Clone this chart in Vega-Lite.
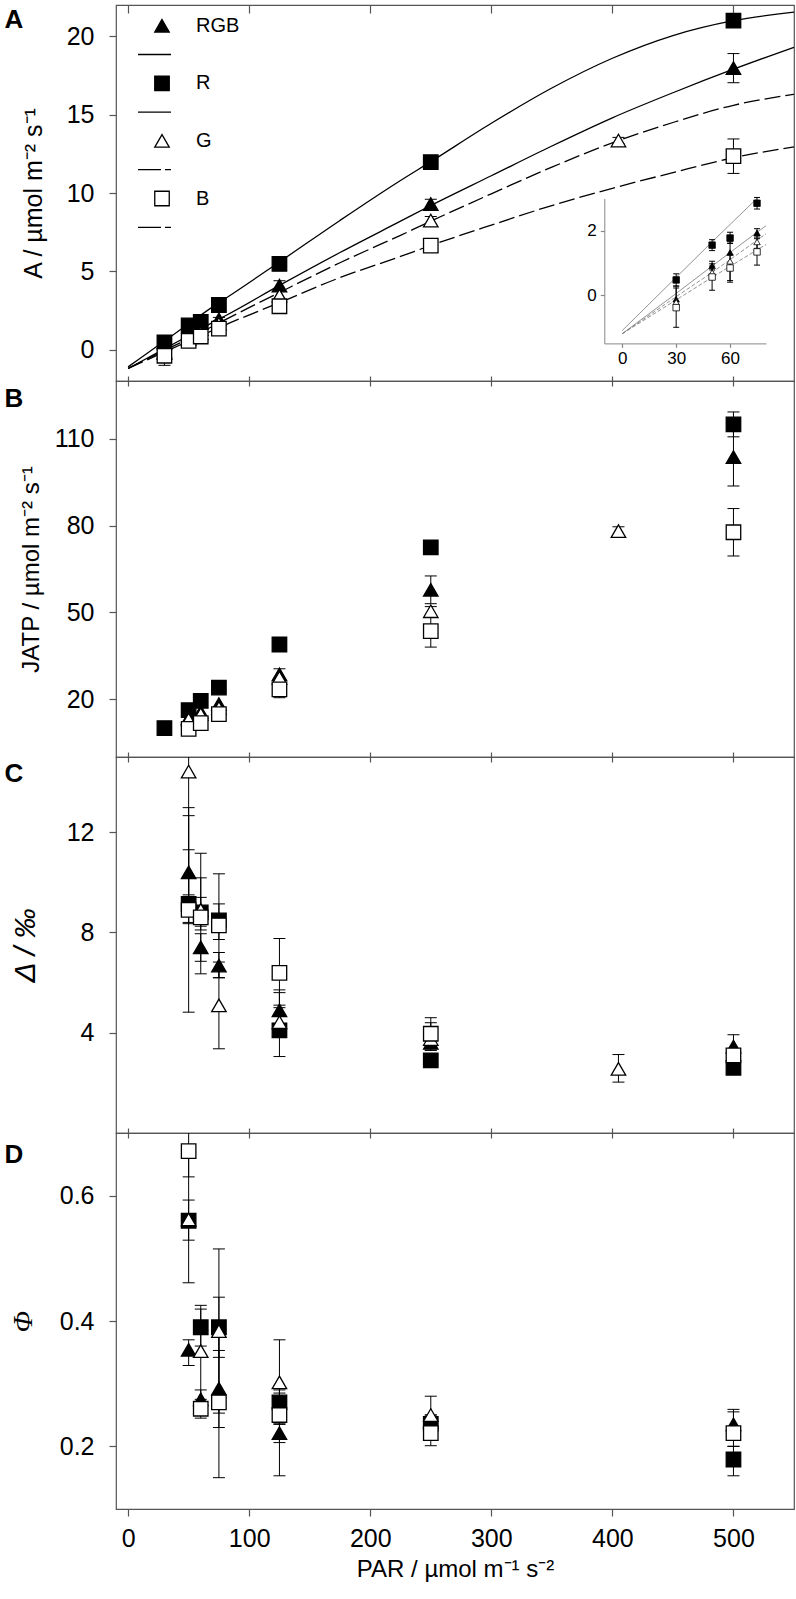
{
"$schema": "https://vega.github.io/schema/vega-lite/v6.json",
"padding": {"left": 3, "top": 3, "right": 0, "bottom": 0},
"background": "white",
"spacing": 0,
"bounds": "flush",
"config": {
  "view": {"stroke": "#555", "strokeWidth": 1.2},
  "axis": {"labelFont": "Liberation Sans", "titleFont": "Liberation Sans", "labelColor": "black", "titleColor": "black", "tickColor": "#555", "tickWidth": 1.2, "grid": false}
},
"resolve": {"scale": {"shape": "independent", "fill": "independent", "stroke": "independent"}, "legend": {"shape": "independent", "fill": "independent", "stroke": "independent"}},
"datasets": {
  "curves": [
    {"group":"R","PAR":0,"v":-1.1},{"group":"R","PAR":30,"v":0.55},{"group":"R","PAR":50,"v":1.65},{"group":"R","PAR":75,"v":3.0},{"group":"R","PAR":80,"v":3.25},{"group":"R","PAR":125,"v":5.6},{"group":"R","PAR":175,"v":8.25},{"group":"R","PAR":225,"v":10.8},{"group":"R","PAR":250,"v":12.0},{"group":"R","PAR":300,"v":14.45},{"group":"R","PAR":350,"v":16.7},{"group":"R","PAR":400,"v":18.6},{"group":"R","PAR":450,"v":20.05},{"group":"R","PAR":500,"v":21.0},{"group":"R","PAR":550,"v":21.55},
    {"group":"RGB","PAR":0,"v":-1.2},{"group":"RGB","PAR":30,"v":0.05},{"group":"RGB","PAR":50,"v":0.9},{"group":"RGB","PAR":75,"v":1.95},{"group":"RGB","PAR":80,"v":2.15},{"group":"RGB","PAR":125,"v":4.1},{"group":"RGB","PAR":175,"v":6.2},{"group":"RGB","PAR":225,"v":8.2},{"group":"RGB","PAR":250,"v":9.2},{"group":"RGB","PAR":300,"v":11.1},{"group":"RGB","PAR":350,"v":13.0},{"group":"RGB","PAR":400,"v":14.8},{"group":"RGB","PAR":450,"v":16.4},{"group":"RGB","PAR":500,"v":17.9},{"group":"RGB","PAR":550,"v":19.3},
    {"group":"G","PAR":0,"v":-1.2},{"group":"G","PAR":30,"v":-0.05},{"group":"G","PAR":50,"v":0.7},{"group":"G","PAR":75,"v":1.7},{"group":"G","PAR":80,"v":1.9},{"group":"G","PAR":125,"v":3.65},{"group":"G","PAR":175,"v":5.55},{"group":"G","PAR":225,"v":7.3},{"group":"G","PAR":250,"v":8.2},{"group":"G","PAR":300,"v":9.95},{"group":"G","PAR":350,"v":11.65},{"group":"G","PAR":405,"v":13.35},{"group":"G","PAR":450,"v":14.5},{"group":"G","PAR":500,"v":15.6},{"group":"G","PAR":550,"v":16.3},
    {"group":"B","PAR":0,"v":-1.2},{"group":"B","PAR":30,"v":-0.15},{"group":"B","PAR":50,"v":0.55},{"group":"B","PAR":75,"v":1.4},{"group":"B","PAR":80,"v":1.57},{"group":"B","PAR":125,"v":3.0},{"group":"B","PAR":175,"v":4.6},{"group":"B","PAR":225,"v":5.95},{"group":"B","PAR":250,"v":6.65},{"group":"B","PAR":300,"v":7.95},{"group":"B","PAR":350,"v":9.2},{"group":"B","PAR":400,"v":10.3},{"group":"B","PAR":450,"v":11.3},{"group":"B","PAR":500,"v":12.25},{"group":"B","PAR":550,"v":12.95}
  ],
  "A": [
    {"group":"R","PAR":30,"v":0.47,"lo":0.28,"hi":0.66},{"group":"R","PAR":50,"v":1.55,"lo":1.38,"hi":1.72},{"group":"R","PAR":60,"v":1.77,"lo":1.6,"hi":1.95},{"group":"R","PAR":75,"v":2.85,"lo":2.67,"hi":3.03},{"group":"R","PAR":125,"v":5.47},{"group":"R","PAR":250,"v":11.97},{"group":"R","PAR":500,"v":21.0},
    {"group":"RGB","PAR":30,"v":-0.13,"lo":-0.35,"hi":0.28},{"group":"RGB","PAR":50,"v":0.91,"lo":0.78,"hi":1.05},{"group":"RGB","PAR":60,"v":1.32,"lo":0.45,"hi":1.65},{"group":"RGB","PAR":75,"v":1.93,"lo":1.8,"hi":2.06},{"group":"RGB","PAR":125,"v":4.09,"lo":3.8,"hi":4.4},{"group":"RGB","PAR":250,"v":9.3,"lo":9.0,"hi":9.6},{"group":"RGB","PAR":500,"v":17.97,"lo":17.04,"hi":18.9},
    {"group":"G","PAR":30,"v":-0.22},{"group":"G","PAR":50,"v":0.7,"lo":0.5,"hi":0.9},{"group":"G","PAR":60,"v":1.05},{"group":"G","PAR":75,"v":1.65,"lo":1.45,"hi":1.85},{"group":"G","PAR":125,"v":3.45},{"group":"G","PAR":250,"v":8.24,"lo":8.0,"hi":8.5},{"group":"G","PAR":405,"v":13.35,"lo":13.15,"hi":13.55},
    {"group":"B","PAR":30,"v":-0.39,"lo":-1.0,"hi":0.22},{"group":"B","PAR":50,"v":0.56,"lo":0.15,"hi":0.97},{"group":"B","PAR":60,"v":0.84,"lo":0.4,"hi":1.25},{"group":"B","PAR":75,"v":1.34,"lo":0.93,"hi":1.75},{"group":"B","PAR":125,"v":2.77,"lo":2.55,"hi":3.0},{"group":"B","PAR":250,"v":6.64,"lo":6.3,"hi":7.0},{"group":"B","PAR":500,"v":12.35,"lo":11.25,"hi":13.45}
  ],
  "B": [
    {"group":"R","PAR":30,"v":10},{"group":"R","PAR":50,"v":16.2},{"group":"R","PAR":60,"v":19.4},{"group":"R","PAR":75,"v":24},{"group":"R","PAR":125,"v":38.9},{"group":"R","PAR":250,"v":72.5},{"group":"R","PAR":500,"v":115,"lo":110.7,"hi":119.3},
    {"group":"RGB","PAR":50,"v":13.5},{"group":"RGB","PAR":60,"v":15.6},{"group":"RGB","PAR":75,"v":18.3},{"group":"RGB","PAR":125,"v":28.6,"lo":27,"hi":30.5},{"group":"RGB","PAR":250,"v":57.8,"lo":53,"hi":62.6},{"group":"RGB","PAR":500,"v":103.7,"lo":93.7,"hi":113.7},
    {"group":"G","PAR":50,"v":13},{"group":"G","PAR":60,"v":14.8},{"group":"G","PAR":75,"v":17},{"group":"G","PAR":125,"v":27.4},{"group":"G","PAR":250,"v":50.4,"lo":48.5,"hi":52},{"group":"G","PAR":405,"v":78.1,"lo":76.5,"hi":79.6},
    {"group":"B","PAR":50,"v":9.7},{"group":"B","PAR":60,"v":11.7},{"group":"B","PAR":75,"v":14.8},{"group":"B","PAR":125,"v":23.4,"lo":20.5,"hi":26},{"group":"B","PAR":250,"v":43.5,"lo":38,"hi":49},{"group":"B","PAR":500,"v":77.7,"lo":69.5,"hi":85.9}
  ],
  "C": [
    {"group":"R","PAR":50,"v":9.14,"lo":8.4,"hi":12.98},{"group":"R","PAR":60,"v":8.8,"lo":8.1,"hi":9.4},{"group":"R","PAR":75,"v":8.48,"lo":7.72,"hi":9.14},{"group":"R","PAR":125,"v":4.09,"lo":3.05,"hi":5.1},{"group":"R","PAR":250,"v":2.9,"lo":2.7,"hi":3.1},{"group":"R","PAR":500,"v":2.6,"lo":2.4,"hi":2.8},
    {"group":"RGB","PAR":50,"v":10.4,"lo":9.5,"hi":11.3},{"group":"RGB","PAR":60,"v":7.41,"lo":6.85,"hi":7.95},{"group":"RGB","PAR":75,"v":6.68,"lo":6.2,"hi":7.2},{"group":"RGB","PAR":125,"v":4.89,"lo":4.2,"hi":5.71},{"group":"RGB","PAR":250,"v":3.6,"lo":3.3,"hi":3.9},{"group":"RGB","PAR":500,"v":3.45,"lo":3.0,"hi":3.92},
    {"group":"G","PAR":50,"v":14.42,"lo":4.82,"hi":24},{"group":"G","PAR":60,"v":8.9,"lo":8.25,"hi":10.18},{"group":"G","PAR":75,"v":5.09,"lo":3.36,"hi":6.82},{"group":"G","PAR":125,"v":4.42,"lo":3.9,"hi":5.6},{"group":"G","PAR":250,"v":3.75,"lo":3.3,"hi":4.4},{"group":"G","PAR":405,"v":2.56,"lo":2.03,"hi":3.13},
    {"group":"B","PAR":50,"v":8.9,"lo":8.35,"hi":12.66},{"group":"B","PAR":60,"v":8.6,"lo":6.35,"hi":11.16},{"group":"B","PAR":75,"v":8.28,"lo":6.19,"hi":10.34},{"group":"B","PAR":125,"v":6.39,"lo":5.0,"hi":7.76},{"group":"B","PAR":250,"v":3.96,"lo":3.4,"hi":4.6},{"group":"B","PAR":500,"v":3.1,"lo":2.9,"hi":3.3}
  ],
  "D": [
    {"group":"R","PAR":50,"v":0.56,"lo":0.529,"hi":0.593},{"group":"R","PAR":60,"v":0.39,"lo":0.36,"hi":0.425},{"group":"R","PAR":75,"v":0.39,"lo":0.342,"hi":0.438},{"group":"R","PAR":125,"v":0.27,"lo":0.255,"hi":0.285},{"group":"R","PAR":250,"v":0.236,"lo":0.225,"hi":0.25},{"group":"R","PAR":500,"v":0.179,"lo":0.153,"hi":0.2},
    {"group":"RGB","PAR":50,"v":0.354,"lo":0.329,"hi":0.37},{"group":"RGB","PAR":60,"v":0.275,"lo":0.26,"hi":0.29},{"group":"RGB","PAR":75,"v":0.292,"lo":0.23,"hi":0.353},{"group":"RGB","PAR":125,"v":0.221,"lo":0.206,"hi":0.236},{"group":"RGB","PAR":250,"v":0.24,"lo":0.23,"hi":0.25},{"group":"RGB","PAR":500,"v":0.235,"lo":0.21,"hi":0.259},
    {"group":"G","PAR":50,"v":0.562,"lo":0.461,"hi":0.66},{"group":"G","PAR":60,"v":0.352,"lo":0.27,"hi":0.419},{"group":"G","PAR":75,"v":0.384,"lo":0.253,"hi":0.515},{"group":"G","PAR":125,"v":0.302,"lo":0.235,"hi":0.37},{"group":"G","PAR":250,"v":0.25,"lo":0.22,"hi":0.28},
    {"group":"B","PAR":50,"v":0.671,"lo":0.63,"hi":0.71},{"group":"B","PAR":60,"v":0.26,"lo":0.245,"hi":0.275},{"group":"B","PAR":75,"v":0.27,"lo":0.15,"hi":0.39},{"group":"B","PAR":125,"v":0.25,"lo":0.153,"hi":0.29},{"group":"B","PAR":250,"v":0.221,"lo":0.201,"hi":0.24},{"group":"B","PAR":500,"v":0.221,"lo":0.2,"hi":0.255}
  ]
},
"vconcat": [
{
  "width": 678, "height": 376,
  "resolve": {"scale": {"x": "independent", "y": "independent"}, "axis": {"x": "independent", "y": "independent"}},
  "layer": [
    {"layer": [
      {"data": {"name": "curves"}, "transform": [{"filter": "datum.group == 'R' || datum.group == 'RGB'"}],
       "mark": {"type": "line", "color": "black", "strokeWidth": 1.3, "interpolate": "monotone"},
       "encoding": {
         "x": {"field": "PAR", "type": "quantitative", "scale": {"domain": [-10, 550], "nice": false, "zero": false}, "axis": {"orient": "bottom", "values": [0,100,200,300,400,500], "labels": false, "title": null, "domain": false, "tickSize": 10, "offset": -5}},
         "y": {"field": "v", "type": "quantitative", "scale": {"domain": [-2, 22], "nice": false, "zero": false}, "axis": {"orient": "left", "values": [0,5,10,15,20], "domain": false, "tickSize": 7, "labelPadding": 15, "labelFontSize": 25, "title": "A / µmol m⁻² s⁻¹", "titleFontSize": 25, "titleFontWeight": "normal", "titleBaseline": "alphabetic", "titleX": -75, "titleY": 188}},
         "detail": {"field": "group", "type": "nominal"}}},
      {"data": {"name": "curves"}, "transform": [{"filter": "datum.group == 'G' || datum.group == 'B'"}],
       "mark": {"type": "line", "color": "black", "strokeWidth": 1.3, "interpolate": "monotone", "strokeDash": [16, 5]},
       "encoding": {
         "x": {"field": "PAR", "type": "quantitative", "scale": {"domain": [-10, 550], "nice": false, "zero": false}, "axis": {"orient": "bottom", "values": [0,100,200,300,400,500], "labels": false, "title": null, "domain": false, "tickSize": 10, "offset": -5}},
         "y": {"field": "v", "type": "quantitative", "scale": {"domain": [-2, 22], "nice": false, "zero": false}, "axis": {"orient": "left", "values": [0,5,10,15,20], "domain": false, "tickSize": 7, "labelPadding": 15, "labelFontSize": 25, "title": "A / µmol m⁻² s⁻¹", "titleFontSize": 25, "titleFontWeight": "normal", "titleBaseline": "alphabetic", "titleX": -75, "titleY": 188}},
         "detail": {"field": "group", "type": "nominal"}}},
      {"data": {"name": "A"}, "transform": [{"filter": "isValid(datum.lo)"}],
       "mark": {"type": "rule", "color": "black", "strokeWidth": 1, "clip": true},
       "encoding": {
         "x": {"field": "PAR", "type": "quantitative", "scale": {"domain": [-10, 550], "nice": false, "zero": false}, "axis": {"orient": "bottom", "values": [0,100,200,300,400,500], "labels": false, "title": null, "domain": false, "tickSize": 10, "offset": -5}},
         "y": {"field": "lo", "type": "quantitative", "scale": {"domain": [-2, 22], "nice": false, "zero": false}, "axis": {"orient": "left", "values": [0,5,10,15,20], "domain": false, "tickSize": 7, "labelPadding": 15, "labelFontSize": 25, "title": "A / µmol m⁻² s⁻¹", "titleFontSize": 25, "titleFontWeight": "normal", "titleBaseline": "alphabetic", "titleX": -75, "titleY": 188}},
         "y2": {"field": "hi"}}},
      {"data": {"name": "A"}, "transform": [{"filter": "isValid(datum.lo)"}],
       "mark": {"type": "tick", "orient": "horizontal", "size": 12, "thickness": 1, "color": "black", "opacity": 1, "clip": true},
       "encoding": {
         "x": {"field": "PAR", "type": "quantitative", "scale": {"domain": [-10, 550], "nice": false, "zero": false}, "axis": {"orient": "bottom", "values": [0,100,200,300,400,500], "labels": false, "title": null, "domain": false, "tickSize": 10, "offset": -5}},
         "y": {"field": "lo", "type": "quantitative", "scale": {"domain": [-2, 22], "nice": false, "zero": false}, "axis": {"orient": "left", "values": [0,5,10,15,20], "domain": false, "tickSize": 7, "labelPadding": 15, "labelFontSize": 25, "title": "A / µmol m⁻² s⁻¹", "titleFontSize": 25, "titleFontWeight": "normal", "titleBaseline": "alphabetic", "titleX": -75, "titleY": 188}}}},
      {"data": {"name": "A"}, "transform": [{"filter": "isValid(datum.hi)"}],
       "mark": {"type": "tick", "orient": "horizontal", "size": 12, "thickness": 1, "color": "black", "opacity": 1, "clip": true},
       "encoding": {
         "x": {"field": "PAR", "type": "quantitative", "scale": {"domain": [-10, 550], "nice": false, "zero": false}, "axis": {"orient": "bottom", "values": [0,100,200,300,400,500], "labels": false, "title": null, "domain": false, "tickSize": 10, "offset": -5}},
         "y": {"field": "hi", "type": "quantitative", "scale": {"domain": [-2, 22], "nice": false, "zero": false}, "axis": {"orient": "left", "values": [0,5,10,15,20], "domain": false, "tickSize": 7, "labelPadding": 15, "labelFontSize": 25, "title": "A / µmol m⁻² s⁻¹", "titleFontSize": 25, "titleFontWeight": "normal", "titleBaseline": "alphabetic", "titleX": -75, "titleY": 188}}}},
      {"data": {"name": "A"},
       "mark": {"type": "point", "filled": true, "size": 210, "stroke": "black", "strokeWidth": 1.3, "opacity": 1},
       "encoding": {
         "x": {"field": "PAR", "type": "quantitative", "scale": {"domain": [-10, 550], "nice": false, "zero": false}, "axis": {"orient": "bottom", "values": [0,100,200,300,400,500], "labels": false, "title": null, "domain": false, "tickSize": 10, "offset": -5}},
         "y": {"field": "v", "type": "quantitative", "scale": {"domain": [-2, 22], "nice": false, "zero": false}, "axis": {"orient": "left", "values": [0,5,10,15,20], "domain": false, "tickSize": 7, "labelPadding": 15, "labelFontSize": 25, "title": "A / µmol m⁻² s⁻¹", "titleFontSize": 25, "titleFontWeight": "normal", "titleBaseline": "alphabetic", "titleX": -75, "titleY": 188}},
         "shape": {"field": "group", "type": "nominal",
           "scale": {"domain": ["RGB","RGB line","R","R line","G","G line","B","B line"], "range": ["triangle-up","M-3.31,0H1.24","square","M-3.31,0H1.24","triangle-up","M-3.31,0H-0.14M0.41,0H1.24","square","M-3.31,0H-0.14M0.41,0H1.24"]},
           "legend": {"orient": "none", "legendX": 36, "legendY": 10.7, "title": null, "direction": "vertical", "labelExpr": "indexof(datum.label, ' line') >= 0 ? '' : datum.label", "labelFontSize": 20, "labelFont": "Liberation Sans", "labelColor": "black", "symbolSize": 210, "symbolStrokeColor": "black", "symbolStrokeWidth": 1.3, "symbolOpacity": 1, "rowPadding": 8.8, "labelOffset": 24, "padding": 0}},
         "fill": {"field": "group", "type": "nominal",
           "scale": {"domain": ["RGB","RGB line","R","R line","G","G line","B","B line"], "range": ["black","transparent","black","transparent","white","transparent","white","transparent"]},
           "legend": {"orient": "none", "legendX": 36, "legendY": 10.7, "title": null, "direction": "vertical", "labelExpr": "indexof(datum.label, ' line') >= 0 ? '' : datum.label", "labelFontSize": 20, "labelFont": "Liberation Sans", "labelColor": "black", "symbolSize": 210, "symbolStrokeColor": "black", "symbolStrokeWidth": 1.3, "symbolOpacity": 1, "rowPadding": 8.8, "labelOffset": 24, "padding": 0}},
         "stroke": {"field": "group", "type": "nominal",
           "scale": {"domain": ["RGB","RGB line","R","R line","G","G line","B","B line"], "range": ["black","black","black","black","black","black","black","black"]},
           "legend": {"orient": "none", "legendX": 36, "legendY": 10.7, "title": null, "direction": "vertical", "labelExpr": "indexof(datum.label, ' line') >= 0 ? '' : datum.label", "labelFontSize": 20, "labelFont": "Liberation Sans", "labelColor": "black", "symbolSize": 210, "symbolStrokeColor": "black", "symbolStrokeWidth": 1.3, "symbolOpacity": 1, "rowPadding": 8.8, "labelOffset": 24, "padding": 0}}}}
    ]},
    {"layer": [
      {"data": {"name": "curves"}, "transform": [{"filter": "datum.PAR <= 80 && datum.v <= 3 && (datum.group == 'R' || datum.group == 'RGB')"}],
       "mark": {"type": "line", "color": "#777", "strokeWidth": 0.8},
       "encoding": {
         "x": {"field": "PAR", "type": "quantitative", "scale": {"domain": [-10, 80], "range": [488.3, 650], "nice": false, "zero": false}, "axis": {"orient": "bottom", "offset": -37.6, "values": [0,30,60], "labelFontSize": 17, "labelPadding": 3, "tickSize": 4, "domain": true, "domainColor": "#888", "tickColor": "#888", "title": null}},
         "y": {"field": "v", "type": "quantitative", "scale": {"domain": [-1.5, 3], "range": [338.4, 193.4], "nice": false, "zero": false}, "axis": {"orient": "left", "offset": -488.3, "values": [0,2], "labelFontSize": 17, "labelPadding": 4, "tickSize": 4, "domain": true, "domainColor": "#888", "tickColor": "#888", "title": null}},
         "detail": {"field": "group", "type": "nominal"}}},
      {"data": {"name": "curves"}, "transform": [{"filter": "datum.PAR <= 80 && datum.v <= 3 && (datum.group == 'G' || datum.group == 'B')"}],
       "mark": {"type": "line", "color": "#777", "strokeWidth": 0.8, "strokeDash": [4, 2]},
       "encoding": {
         "x": {"field": "PAR", "type": "quantitative", "scale": {"domain": [-10, 80], "range": [488.3, 650], "nice": false, "zero": false}, "axis": {"orient": "bottom", "offset": -37.6, "values": [0,30,60], "labelFontSize": 17, "labelPadding": 3, "tickSize": 4, "domain": true, "domainColor": "#888", "tickColor": "#888", "title": null}},
         "y": {"field": "v", "type": "quantitative", "scale": {"domain": [-1.5, 3], "range": [338.4, 193.4], "nice": false, "zero": false}, "axis": {"orient": "left", "offset": -488.3, "values": [0,2], "labelFontSize": 17, "labelPadding": 4, "tickSize": 4, "domain": true, "domainColor": "#888", "tickColor": "#888", "title": null}},
         "detail": {"field": "group", "type": "nominal"}}},
      {"data": {"name": "A"}, "transform": [{"filter": "datum.PAR <= 75 && isValid(datum.lo)"}],
       "mark": {"type": "rule", "color": "black", "strokeWidth": 1},
       "encoding": {
         "x": {"field": "PAR", "type": "quantitative", "scale": {"domain": [-10, 80], "range": [488.3, 650], "nice": false, "zero": false}, "axis": {"orient": "bottom", "offset": -37.6, "values": [0,30,60], "labelFontSize": 17, "labelPadding": 3, "tickSize": 4, "domain": true, "domainColor": "#888", "tickColor": "#888", "title": null}},
         "y": {"field": "lo", "type": "quantitative", "scale": {"domain": [-1.5, 3], "range": [338.4, 193.4], "nice": false, "zero": false}, "axis": {"orient": "left", "offset": -488.3, "values": [0,2], "labelFontSize": 17, "labelPadding": 4, "tickSize": 4, "domain": true, "domainColor": "#888", "tickColor": "#888", "title": null}},
         "y2": {"field": "hi"}}},
      {"data": {"name": "A"}, "transform": [{"filter": "datum.PAR <= 75 && isValid(datum.lo)"}],
       "mark": {"type": "tick", "orient": "horizontal", "size": 6, "thickness": 1, "color": "black", "opacity": 1},
       "encoding": {
         "x": {"field": "PAR", "type": "quantitative", "scale": {"domain": [-10, 80], "range": [488.3, 650], "nice": false, "zero": false}, "axis": {"orient": "bottom", "offset": -37.6, "values": [0,30,60], "labelFontSize": 17, "labelPadding": 3, "tickSize": 4, "domain": true, "domainColor": "#888", "tickColor": "#888", "title": null}},
         "y": {"field": "lo", "type": "quantitative", "scale": {"domain": [-1.5, 3], "range": [338.4, 193.4], "nice": false, "zero": false}, "axis": {"orient": "left", "offset": -488.3, "values": [0,2], "labelFontSize": 17, "labelPadding": 4, "tickSize": 4, "domain": true, "domainColor": "#888", "tickColor": "#888", "title": null}}}},
      {"data": {"name": "A"}, "transform": [{"filter": "datum.PAR <= 75 && isValid(datum.hi)"}],
       "mark": {"type": "tick", "orient": "horizontal", "size": 6, "thickness": 1, "color": "black", "opacity": 1},
       "encoding": {
         "x": {"field": "PAR", "type": "quantitative", "scale": {"domain": [-10, 80], "range": [488.3, 650], "nice": false, "zero": false}, "axis": {"orient": "bottom", "offset": -37.6, "values": [0,30,60], "labelFontSize": 17, "labelPadding": 3, "tickSize": 4, "domain": true, "domainColor": "#888", "tickColor": "#888", "title": null}},
         "y": {"field": "hi", "type": "quantitative", "scale": {"domain": [-1.5, 3], "range": [338.4, 193.4], "nice": false, "zero": false}, "axis": {"orient": "left", "offset": -488.3, "values": [0,2], "labelFontSize": 17, "labelPadding": 4, "tickSize": 4, "domain": true, "domainColor": "#888", "tickColor": "#888", "title": null}}}},
      {"data": {"name": "A"}, "transform": [{"filter": "datum.PAR <= 75"}],
       "mark": {"type": "point", "filled": true, "size": 42, "stroke": "black", "strokeWidth": 0.8, "opacity": 1},
       "encoding": {
         "x": {"field": "PAR", "type": "quantitative", "scale": {"domain": [-10, 80], "range": [488.3, 650], "nice": false, "zero": false}, "axis": {"orient": "bottom", "offset": -37.6, "values": [0,30,60], "labelFontSize": 17, "labelPadding": 3, "tickSize": 4, "domain": true, "domainColor": "#888", "tickColor": "#888", "title": null}},
         "y": {"field": "v", "type": "quantitative", "scale": {"domain": [-1.5, 3], "range": [338.4, 193.4], "nice": false, "zero": false}, "axis": {"orient": "left", "offset": -488.3, "values": [0,2], "labelFontSize": 17, "labelPadding": 4, "tickSize": 4, "domain": true, "domainColor": "#888", "tickColor": "#888", "title": null}},
         "shape": {"field": "group", "type": "nominal",
           "scale": {"domain": ["RGB","RGB line","R","R line","G","G line","B","B line"], "range": ["triangle-up","M-3.31,0H1.24","square","M-3.31,0H1.24","triangle-up","M-3.31,0H-0.14M0.41,0H1.24","square","M-3.31,0H-0.14M0.41,0H1.24"]},
           "legend": {"orient": "none", "legendX": 36, "legendY": 10.7, "title": null, "direction": "vertical", "labelExpr": "indexof(datum.label, ' line') >= 0 ? '' : datum.label", "labelFontSize": 20, "labelFont": "Liberation Sans", "labelColor": "black", "symbolSize": 210, "symbolStrokeColor": "black", "symbolStrokeWidth": 1.3, "symbolOpacity": 1, "rowPadding": 8.8, "labelOffset": 24, "padding": 0}},
         "fill": {"field": "group", "type": "nominal",
           "scale": {"domain": ["RGB","RGB line","R","R line","G","G line","B","B line"], "range": ["black","transparent","black","transparent","white","transparent","white","transparent"]},
           "legend": {"orient": "none", "legendX": 36, "legendY": 10.7, "title": null, "direction": "vertical", "labelExpr": "indexof(datum.label, ' line') >= 0 ? '' : datum.label", "labelFontSize": 20, "labelFont": "Liberation Sans", "labelColor": "black", "symbolSize": 210, "symbolStrokeColor": "black", "symbolStrokeWidth": 1.3, "symbolOpacity": 1, "rowPadding": 8.8, "labelOffset": 24, "padding": 0}},
         "stroke": {"field": "group", "type": "nominal",
           "scale": {"domain": ["RGB","RGB line","R","R line","G","G line","B","B line"], "range": ["black","black","black","black","black","black","black","black"]},
           "legend": {"orient": "none", "legendX": 36, "legendY": 10.7, "title": null, "direction": "vertical", "labelExpr": "indexof(datum.label, ' line') >= 0 ? '' : datum.label", "labelFontSize": 20, "labelFont": "Liberation Sans", "labelColor": "black", "symbolSize": 210, "symbolStrokeColor": "black", "symbolStrokeWidth": 1.3, "symbolOpacity": 1, "rowPadding": 8.8, "labelOffset": 24, "padding": 0}}}}
    ]},
    {"data": {"name": "curves"},
     "mark": {"type": "point", "opacity": 0},
     "encoding": {
       "x": {"field": "PAR", "type": "quantitative", "scale": {"domain": [-10, 550], "nice": false, "zero": false}, "axis": {"orient": "top", "values": [0,100,200,300,400,500], "labels": false, "title": null, "domain": false, "tickSize": 8, "offset": -8}},
       "y": {"field": "v", "type": "quantitative", "scale": {"domain": [-2, 22], "nice": false, "zero": false}, "axis": {"orient": "left", "labels": false, "ticks": false, "domain": false, "title": "A", "titleAngle": 0, "titleX": -112, "titleY": 22.7, "titleAlign": "left", "titleBaseline": "alphabetic", "titleFontSize": 26, "titleFontWeight": "bold"}}}}
  ]
},
{
  "width": 678, "height": 376,
  "data": {"name": "B"},
  "resolve": {"scale": {"y": "independent"}, "axis": {"y": "independent"}},
  "layer": [
    {"encoding": {
      "x": {"field": "PAR", "type": "quantitative", "scale": {"domain": [-10, 550], "nice": false, "zero": false}, "axis": {"orient": "bottom", "values": [0,100,200,300,400,500], "labels": false, "title": null, "domain": false, "tickSize": 10, "offset": -5}}
     },
     "layer": [
      {"transform": [{"filter": "isValid(datum.lo)"}], "mark": {"type": "rule", "color": "black", "strokeWidth": 1, "clip": true},
       "encoding": {"y": {"field": "lo", "type": "quantitative", "scale": {"domain": [0, 130], "nice": false, "zero": false}, "axis": {"orient": "left", "values": [20,50,80,110], "domain": false, "tickSize": 7, "labelPadding": 15, "labelFontSize": 25, "title": "JATP / µmol m⁻² s⁻¹", "titleFontSize": 24, "titleFontWeight": "normal", "titleBaseline": "alphabetic", "titleX": -78, "titleY": 188}}, "y2": {"field": "hi"}}},
      {"transform": [{"filter": "isValid(datum.lo)"}], "mark": {"type": "tick", "orient": "horizontal", "size": 12, "thickness": 1, "color": "black", "opacity": 1, "clip": true},
       "encoding": {"y": {"field": "lo", "type": "quantitative", "scale": {"domain": [0, 130], "nice": false, "zero": false}, "axis": {"orient": "left", "values": [20,50,80,110], "domain": false, "tickSize": 7, "labelPadding": 15, "labelFontSize": 25, "title": "JATP / µmol m⁻² s⁻¹", "titleFontSize": 24, "titleFontWeight": "normal", "titleBaseline": "alphabetic", "titleX": -78, "titleY": 188}}}},
      {"transform": [{"filter": "isValid(datum.hi)"}], "mark": {"type": "tick", "orient": "horizontal", "size": 12, "thickness": 1, "color": "black", "opacity": 1, "clip": true},
       "encoding": {"y": {"field": "hi", "type": "quantitative", "scale": {"domain": [0, 130], "nice": false, "zero": false}, "axis": {"orient": "left", "values": [20,50,80,110], "domain": false, "tickSize": 7, "labelPadding": 15, "labelFontSize": 25, "title": "JATP / µmol m⁻² s⁻¹", "titleFontSize": 24, "titleFontWeight": "normal", "titleBaseline": "alphabetic", "titleX": -78, "titleY": 188}}}},
      {"mark": {"type": "point", "filled": true, "size": 210, "stroke": "black", "strokeWidth": 1.3, "opacity": 1},
       "encoding": {"y": {"field": "v", "type": "quantitative", "scale": {"domain": [0, 130], "nice": false, "zero": false}, "axis": {"orient": "left", "values": [20,50,80,110], "domain": false, "tickSize": 7, "labelPadding": 15, "labelFontSize": 25, "title": "JATP / µmol m⁻² s⁻¹", "titleFontSize": 24, "titleFontWeight": "normal", "titleBaseline": "alphabetic", "titleX": -78, "titleY": 188}},
         "shape": {"field": "group", "type": "nominal", "scale": {"domain": ["RGB","R","G","B"], "range": ["triangle-up","square","triangle-up","square"]}, "legend": null},
         "fill": {"field": "group", "type": "nominal", "scale": {"domain": ["RGB","R","G","B"], "range": ["black","black","white","white"]}, "legend": null}}}
     ]},
    {"mark": {"type": "point", "opacity": 0},
     "encoding": {"y": {"field": "v", "type": "quantitative", "scale": {"domain": [0, 130], "nice": false, "zero": false}, "axis": {"orient": "left", "labels": false, "ticks": false, "domain": false, "title": "B", "titleAngle": 0, "titleX": -112, "titleY": 25.7, "titleAlign": "left", "titleBaseline": "alphabetic", "titleFontSize": 26, "titleFontWeight": "bold"}}}}
  ]
},
{
  "width": 678, "height": 376,
  "data": {"name": "C"},
  "resolve": {"scale": {"y": "independent"}, "axis": {"y": "independent"}},
  "layer": [
    {"encoding": {
      "x": {"field": "PAR", "type": "quantitative", "scale": {"domain": [-10, 550], "nice": false, "zero": false}, "axis": {"orient": "bottom", "values": [0,100,200,300,400,500], "labels": false, "title": null, "domain": false, "tickSize": 10, "offset": -5}}
     },
     "layer": [
      {"transform": [{"filter": "isValid(datum.lo)"}], "mark": {"type": "rule", "color": "black", "strokeWidth": 1, "clip": true},
       "encoding": {"y": {"field": "lo", "type": "quantitative", "scale": {"domain": [0, 15], "nice": false, "zero": false}, "axis": {"orient": "left", "values": [4,8,12], "domain": false, "tickSize": 7, "labelPadding": 15, "labelFontSize": 25, "title": "Δ / ‰", "titleFontSize": 30, "titleFontStyle": "italic", "titleFontWeight": "normal", "titleBaseline": "alphabetic", "titleX": -82, "titleY": 188}}, "y2": {"field": "hi"}}},
      {"transform": [{"filter": "isValid(datum.lo)"}], "mark": {"type": "tick", "orient": "horizontal", "size": 12, "thickness": 1, "color": "black", "opacity": 1, "clip": true},
       "encoding": {"y": {"field": "lo", "type": "quantitative", "scale": {"domain": [0, 15], "nice": false, "zero": false}, "axis": {"orient": "left", "values": [4,8,12], "domain": false, "tickSize": 7, "labelPadding": 15, "labelFontSize": 25, "title": "Δ / ‰", "titleFontSize": 30, "titleFontStyle": "italic", "titleFontWeight": "normal", "titleBaseline": "alphabetic", "titleX": -82, "titleY": 188}}}},
      {"transform": [{"filter": "isValid(datum.hi)"}], "mark": {"type": "tick", "orient": "horizontal", "size": 12, "thickness": 1, "color": "black", "opacity": 1, "clip": true},
       "encoding": {"y": {"field": "hi", "type": "quantitative", "scale": {"domain": [0, 15], "nice": false, "zero": false}, "axis": {"orient": "left", "values": [4,8,12], "domain": false, "tickSize": 7, "labelPadding": 15, "labelFontSize": 25, "title": "Δ / ‰", "titleFontSize": 30, "titleFontStyle": "italic", "titleFontWeight": "normal", "titleBaseline": "alphabetic", "titleX": -82, "titleY": 188}}}},
      {"mark": {"type": "point", "filled": true, "size": 210, "stroke": "black", "strokeWidth": 1.3, "opacity": 1},
       "encoding": {"y": {"field": "v", "type": "quantitative", "scale": {"domain": [0, 15], "nice": false, "zero": false}, "axis": {"orient": "left", "values": [4,8,12], "domain": false, "tickSize": 7, "labelPadding": 15, "labelFontSize": 25, "title": "Δ / ‰", "titleFontSize": 30, "titleFontStyle": "italic", "titleFontWeight": "normal", "titleBaseline": "alphabetic", "titleX": -82, "titleY": 188}},
         "shape": {"field": "group", "type": "nominal", "scale": {"domain": ["RGB","R","G","B"], "range": ["triangle-up","square","triangle-up","square"]}, "legend": null},
         "fill": {"field": "group", "type": "nominal", "scale": {"domain": ["RGB","R","G","B"], "range": ["black","black","white","white"]}, "legend": null}}}
     ]},
    {"mark": {"type": "point", "opacity": 0},
     "encoding": {"y": {"field": "v", "type": "quantitative", "scale": {"domain": [0, 15], "nice": false, "zero": false}, "axis": {"orient": "left", "labels": false, "ticks": false, "domain": false, "title": "C", "titleAngle": 0, "titleX": -112, "titleY": 24.3, "titleAlign": "left", "titleBaseline": "alphabetic", "titleFontSize": 26, "titleFontWeight": "bold"}}}}
  ]
},
{
  "width": 678, "height": 376,
  "data": {"name": "D"},
  "resolve": {"scale": {"y": "independent"}, "axis": {"y": "independent"}},
  "layer": [
    {"encoding": {
      "x": {"field": "PAR", "type": "quantitative", "scale": {"domain": [-10, 550], "nice": false, "zero": false}, "axis": {"orient": "bottom", "values": [0,100,200,300,400,500], "domain": false, "tickSize": 7, "labelFontSize": 25, "labelPadding": 10, "title": "PAR / µmol m⁻¹ s⁻²", "titleFontSize": 24, "titleFontWeight": "normal", "titlePadding": 6}}
     },
     "layer": [
      {"transform": [{"filter": "isValid(datum.lo)"}], "mark": {"type": "rule", "color": "black", "strokeWidth": 1, "clip": true},
       "encoding": {"y": {"field": "lo", "type": "quantitative", "scale": {"domain": [0.1, 0.7], "nice": false, "zero": false}, "axis": {"orient": "left", "values": [0.2,0.4,0.6], "format": ".1f", "domain": false, "tickSize": 7, "labelPadding": 15, "labelFontSize": 25, "title": "Φ", "titleFont": "Liberation Serif", "titleFontSize": 28, "titleFontStyle": "italic", "titleFontWeight": "normal", "titleBaseline": "alphabetic", "titleX": -85, "titleY": 188}}, "y2": {"field": "hi"}}},
      {"transform": [{"filter": "isValid(datum.lo)"}], "mark": {"type": "tick", "orient": "horizontal", "size": 12, "thickness": 1, "color": "black", "opacity": 1, "clip": true},
       "encoding": {"y": {"field": "lo", "type": "quantitative", "scale": {"domain": [0.1, 0.7], "nice": false, "zero": false}, "axis": {"orient": "left", "values": [0.2,0.4,0.6], "format": ".1f", "domain": false, "tickSize": 7, "labelPadding": 15, "labelFontSize": 25, "title": "Φ", "titleFont": "Liberation Serif", "titleFontSize": 28, "titleFontStyle": "italic", "titleFontWeight": "normal", "titleBaseline": "alphabetic", "titleX": -85, "titleY": 188}}}},
      {"transform": [{"filter": "isValid(datum.hi)"}], "mark": {"type": "tick", "orient": "horizontal", "size": 12, "thickness": 1, "color": "black", "opacity": 1, "clip": true},
       "encoding": {"y": {"field": "hi", "type": "quantitative", "scale": {"domain": [0.1, 0.7], "nice": false, "zero": false}, "axis": {"orient": "left", "values": [0.2,0.4,0.6], "format": ".1f", "domain": false, "tickSize": 7, "labelPadding": 15, "labelFontSize": 25, "title": "Φ", "titleFont": "Liberation Serif", "titleFontSize": 28, "titleFontStyle": "italic", "titleFontWeight": "normal", "titleBaseline": "alphabetic", "titleX": -85, "titleY": 188}}}},
      {"mark": {"type": "point", "filled": true, "size": 210, "stroke": "black", "strokeWidth": 1.3, "opacity": 1},
       "encoding": {"y": {"field": "v", "type": "quantitative", "scale": {"domain": [0.1, 0.7], "nice": false, "zero": false}, "axis": {"orient": "left", "values": [0.2,0.4,0.6], "format": ".1f", "domain": false, "tickSize": 7, "labelPadding": 15, "labelFontSize": 25, "title": "Φ", "titleFont": "Liberation Serif", "titleFontSize": 28, "titleFontStyle": "italic", "titleFontWeight": "normal", "titleBaseline": "alphabetic", "titleX": -85, "titleY": 188}},
         "shape": {"field": "group", "type": "nominal", "scale": {"domain": ["RGB","R","G","B"], "range": ["triangle-up","square","triangle-up","square"]}, "legend": null},
         "fill": {"field": "group", "type": "nominal", "scale": {"domain": ["RGB","R","G","B"], "range": ["black","black","white","white"]}, "legend": null}}}
     ]},
    {"mark": {"type": "point", "opacity": 0},
     "encoding": {"y": {"field": "v", "type": "quantitative", "scale": {"domain": [0.1, 0.7], "nice": false, "zero": false}, "axis": {"orient": "left", "labels": false, "ticks": false, "domain": false, "title": "D", "titleAngle": 0, "titleX": -112, "titleY": 29, "titleAlign": "left", "titleBaseline": "alphabetic", "titleFontSize": 26, "titleFontWeight": "bold"}}}}
  ]
}
]
}
